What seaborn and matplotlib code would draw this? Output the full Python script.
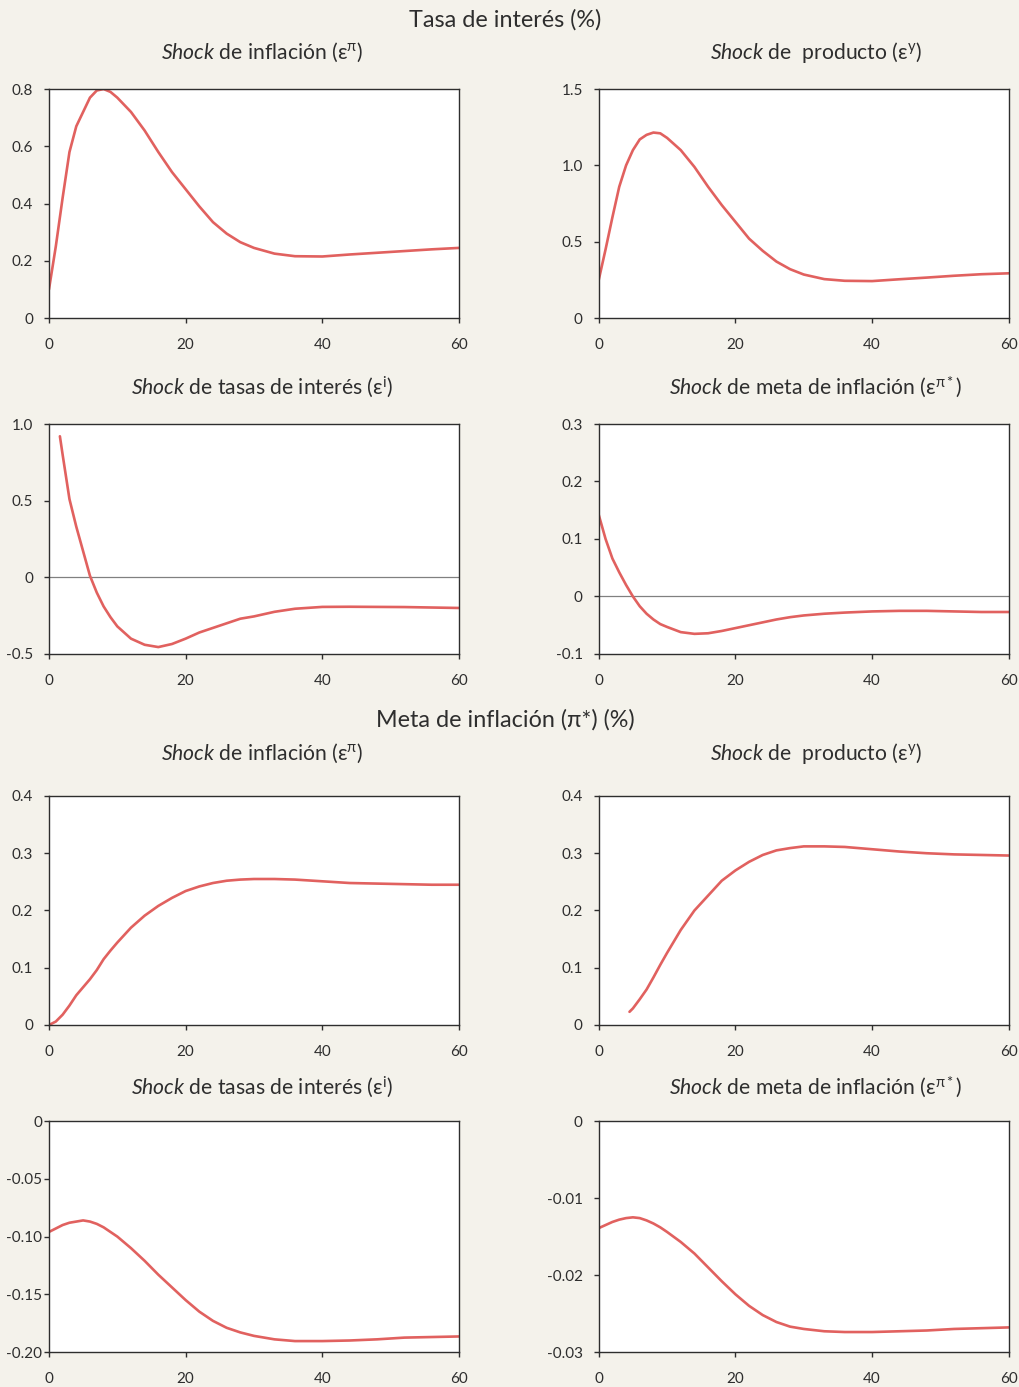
import matplotlib
matplotlib.use("Agg")
import matplotlib.pyplot as plt
import seaborn as sns
from matplotlib.ticker import FixedLocator, FixedFormatter

# periods shared by most series
T = [0, 1, 2, 3, 4, 5, 6, 7, 8, 9, 10, 12, 14, 16, 18, 20, 22, 24, 26, 28, 30,
     33, 36, 40, 44, 48, 52, 56, 60]

# Tasa de interes (%)
rate_infl = [0.10, 0.25, 0.42, 0.58, 0.67, 0.72, 0.77, 0.795, 0.80, 0.79, 0.77,
             0.72, 0.655, 0.58, 0.51, 0.45, 0.39, 0.335, 0.295, 0.265, 0.245,
             0.225, 0.216, 0.215, 0.222, 0.228, 0.234, 0.240, 0.245]
rate_output = [0.25, 0.45, 0.66, 0.86, 1.00, 1.10, 1.17, 1.20, 1.215, 1.21, 1.18,
               1.10, 0.99, 0.86, 0.74, 0.63, 0.52, 0.44, 0.37, 0.32, 0.285,
               0.255, 0.244, 0.242, 0.254, 0.265, 0.277, 0.287, 0.293]
T_rate_rate = [1.6] + T[2:]
rate_rate = [0.92, 0.80, 0.51, 0.33, 0.17, 0.01, -0.10, -0.19, -0.26, -0.32,
             -0.40, -0.44, -0.455, -0.435, -0.40, -0.36, -0.33, -0.30, -0.27,
             -0.255, -0.225, -0.205, -0.193, -0.192, -0.193, -0.194, -0.197, -0.20]
rate_target = [0.142, 0.10, 0.066, 0.042, 0.02, 0.0, -0.017, -0.030, -0.040,
               -0.048, -0.053, -0.062, -0.065, -0.064, -0.060, -0.055, -0.050,
               -0.045, -0.040, -0.036, -0.033, -0.030, -0.028, -0.026, -0.025,
               -0.025, -0.026, -0.027, -0.027]

# Meta de inflacion (%)
target_infl = [0.0, 0.006, 0.018, 0.034, 0.052, 0.066, 0.080, 0.096, 0.115,
               0.130, 0.144, 0.170, 0.191, 0.208, 0.222, 0.234, 0.242, 0.248,
               0.252, 0.254, 0.255, 0.255, 0.254, 0.251, 0.248, 0.247, 0.246,
               0.245, 0.245]
T_target_output = [4.5] + T[5:]
target_output = [0.023, 0.029, 0.045, 0.062, 0.083, 0.105, 0.126, 0.166, 0.200,
                 0.226, 0.252, 0.270, 0.285, 0.297, 0.305, 0.309, 0.312, 0.312,
                 0.311, 0.307, 0.303, 0.300, 0.298, 0.297, 0.296]
target_rate = [-0.096, -0.093, -0.090, -0.088, -0.087, -0.086, -0.087, -0.089,
               -0.092, -0.096, -0.100, -0.110, -0.121, -0.133, -0.144, -0.155,
               -0.165, -0.173, -0.179, -0.183, -0.186, -0.189, -0.1905, -0.1905,
               -0.190, -0.189, -0.1875, -0.187, -0.1865]
target_target = [-0.0139, -0.0135, -0.0131, -0.0128, -0.0126, -0.0125, -0.0126,
                 -0.0129, -0.0133, -0.0138, -0.0144, -0.0157, -0.0172, -0.0190,
                 -0.0208, -0.0225, -0.0240, -0.0252, -0.0261, -0.0267, -0.0270,
                 -0.0273, -0.0274, -0.0274, -0.0273, -0.0272, -0.0270, -0.0269,
                 -0.0268]

X_TICKS = [0, 20, 40, 60]

TITLE_INFL = r"$\mathit{Shock}$ de inflación (ε$^{\mathrm{\pi}}$)"
TITLE_OUTPUT = r"$\mathit{Shock}$ de  producto (ε$^{\mathrm{y}}$)"
TITLE_RATE = r"$\mathit{Shock}$ de tasas de interés (ε$^{\mathrm{i}}$)"
TITLE_TARGET = r"$\mathit{Shock}$ de meta de inflación (ε$^{\mathrm{\pi*}}$)"

sns.set_style("white")
plt.rcParams["font.family"] = ["Lato", "DejaVu Sans"]
plt.rcParams["mathtext.fontset"] = "custom"
plt.rcParams["mathtext.rm"] = "Lato"
plt.rcParams["mathtext.it"] = "Lato:italic"

BG = "#F4F2EB"
LINE = "#E1615F"
DARK = "#2E2E2E"

fig = plt.figure(figsize=(10.2, 13.87), dpi=100, facecolor=BG)

LEFT_X, RIGHT_X, WIDTH = 0.048, 0.587, 0.402
ROWS = [(0.7707, 0.1651), (0.5285, 0.1658), (0.2610, 0.1651), (0.0252, 0.1665)]


def panel(col_x, row, x, y, yticks, ylabels, zero_line=False, ypad=8):
    bottom, height = ROWS[row]
    ax = fig.add_axes([col_x, bottom, WIDTH, height])
    ax.set_facecolor("white")
    sns.lineplot(x=x, y=y, ax=ax, color=LINE, linewidth=1.9)
    if zero_line:
        ax.axhline(0, color="#808080", linewidth=0.9, zorder=1)
    ax.set_xlim(0, 60)
    ax.set_ylim(yticks[0], yticks[-1])
    ax.xaxis.set_major_locator(FixedLocator(X_TICKS))
    ax.yaxis.set_major_locator(FixedLocator(yticks))
    ax.yaxis.set_major_formatter(FixedFormatter(ylabels))
    for s in ax.spines.values():
        s.set_color(DARK)
        s.set_linewidth(1.0)
    ax.tick_params(axis="both", direction="out", length=3.5, width=1,
                   color=DARK, labelcolor=DARK, labelsize=11)
    ax.tick_params(axis="x", pad=11, bottom=True)
    ax.tick_params(axis="y", pad=ypad, left=True)
    ax.grid(False)
    return ax


panel(LEFT_X, 0, T, rate_infl, [0, 0.2, 0.4, 0.6, 0.8],
      ["0", "0.2", "0.4", "0.6", "0.8"])
panel(RIGHT_X, 0, T, rate_output, [0, 0.5, 1.0, 1.5],
      ["0", "0.5", "1.0", "1.5"])
panel(LEFT_X, 1, T_rate_rate, rate_rate, [-0.5, 0, 0.5, 1.0],
      ["-0.5", "0", "0.5", "1.0"], zero_line=True)
panel(RIGHT_X, 1, T, rate_target, [-0.1, 0, 0.1, 0.2, 0.3],
      ["-0.1", "0", "0.1", "0.2", "0.3"], zero_line=True)
panel(LEFT_X, 2, T, target_infl, [0, 0.1, 0.2, 0.3, 0.4],
      ["0", "0.1", "0.2", "0.3", "0.4"])
panel(RIGHT_X, 2, T_target_output, target_output, [0, 0.1, 0.2, 0.3, 0.4],
      ["0", "0.1", "0.2", "0.3", "0.4"])
panel(LEFT_X, 3, T, target_rate, [-0.20, -0.15, -0.10, -0.05, 0],
      ["-0.20", "-0.15", "-0.10", "-0.05", "0"], ypad=1.5)
panel(RIGHT_X, 3, T, target_target, [-0.03, -0.02, -0.01, 0],
      ["-0.03", "-0.02", "-0.01", "0"])

# titles
fig.text(0.495, 0.9856, "Tasa de interés (%)", ha="center", va="center",
         fontsize=16.8, color=DARK)
fig.text(0.495, 0.4810, "Meta de inflación (π*) (%)", ha="center", va="center",
         fontsize=16.8, color=DARK)

SUB = [(0.9625, TITLE_INFL, TITLE_OUTPUT), (0.7210, TITLE_RATE, TITLE_TARGET),
       (0.4571, TITLE_INFL, TITLE_OUTPUT), (0.2163, TITLE_RATE, TITLE_TARGET)]
for yy, left_t, right_t in SUB:
    fig.text(0.257, yy, left_t, ha="center", va="center", fontsize=15.2, color=DARK)
    fig.text(0.800, yy, right_t, ha="center", va="center", fontsize=15.2, color=DARK)

fig.savefig("out.png", dpi=100, facecolor=BG)
